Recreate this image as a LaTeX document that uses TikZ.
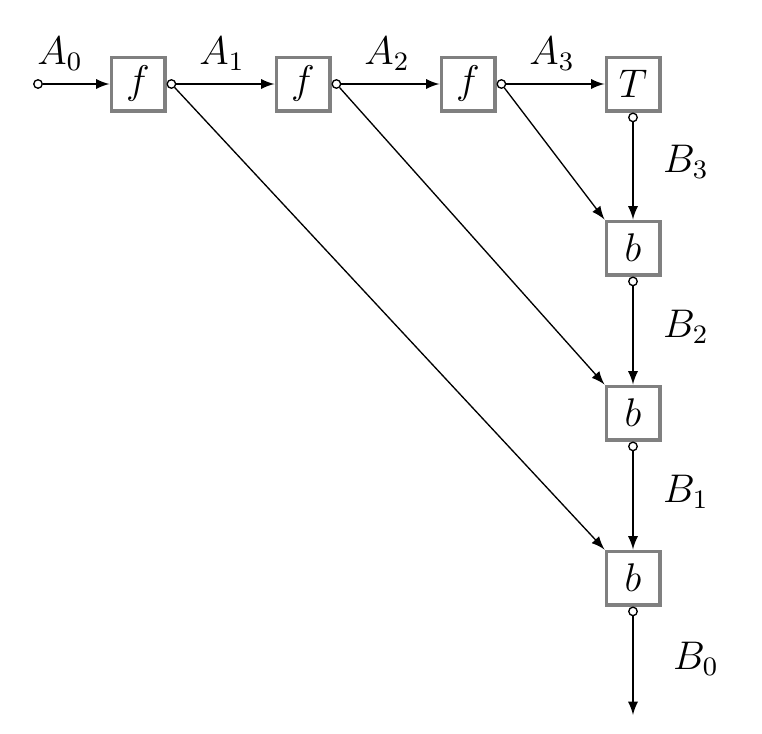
\documentclass[tikz,border=0pt]{standalone}
\usetikzlibrary{arrows}
\begin{document}
\begin{tikzpicture}[x=0.3pt,y=-0.3pt,>=latex,font=\fontsize{11.5}{14}\selectfont]
\tikzstyle{box}=[draw=gray,line width=1.1pt,fill=white,minimum size=16pt,inner sep=0pt]
\tikzstyle{port}=[draw,fill=white,circle,minimum width=0pt,inner sep=0.9pt]
\useasboundingbox (0,0) rectangle (762,734);
% forward chain
\node (f1) at (138,84) [box] {$f$};
\node (f2) at (303,84) [box] {$f$};
\node (f3) at (468,84) [box] {$f$};
\node (t) at (633,84) [box] {$T$};
% backward chain
\node (b3) at (633,248) [box] {$b$};
\node (b2) at (633,413) [box] {$b$};
\node (b1) at (633,578) [box] {$b$};
% ports
\node (p0) at (38,84) [port] {};
\node (p1) at (f1.east) [port,anchor=west] {};
\node (p2) at (f2.east) [port,anchor=west] {};
\node (p3) at (f3.east) [port,anchor=west] {};
\node (q3) at (t.south) [port,anchor=north] {};
\node (q2) at (b3.south) [port,anchor=north] {};
\node (q1) at (b2.south) [port,anchor=north] {};
\node (q0) at (b1.south) [port,anchor=north] {};
\coordinate (out) at (633,715);
% labels
\node (a0) at (60,54) {$A_0$};
\node (a1) at (222,54) {$A_1$};
\node (a2) at (387,54) {$A_2$};
\node (a3) at (552,54) {$A_3$};
\node (lb3) at (686,162) {$B_3$};
\node (lb2) at (686,327) {$B_2$};
\node (lb1) at (686,492) {$B_1$};
\node (lb0) at (696,659) {$B_0$};
% connectors
\draw[->] (p0) -- (f1);
\draw[->] (p1) -- (f2);
\draw[->] (p2) -- (f3);
\draw[->] (p3) -- (t);
\draw[->] (q3) -- (b3);
\draw[->] (q2) -- (b2);
\draw[->] (q1) -- (b1);
\draw[->] (q0) -- (out);
\draw[->] (p1) -- (b1.north west);
\draw[->] (p2) -- (b2.north west);
\draw[->] (p3) -- (b3.north west);
\end{tikzpicture}
\end{document}
